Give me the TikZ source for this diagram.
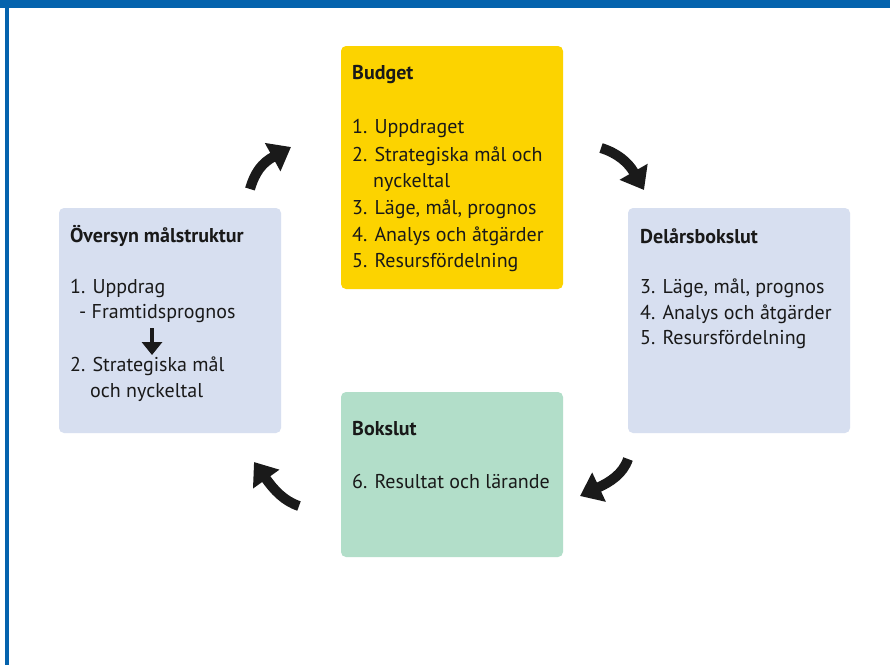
\documentclass[tikz,border=0pt]{standalone}
\usepackage{fontspec}
\setmainfont{PT Sans}
\usetikzlibrary{arrows.meta}
\definecolor{frameblue}{HTML}{0563AD}
\definecolor{budgetyellow}{HTML}{FCD300}
\definecolor{paleblue}{HTML}{D7DFF0}
\definecolor{palegreen}{HTML}{B2DEC9}
\definecolor{arrowblack}{HTML}{1A1A1A}
\tikzset{
  panel/.style={rounded corners=5pt, draw=none},
  txt/.style={anchor=west, inner sep=0pt, font=\fontsize{20}{24}\selectfont, text=black!90},
  ttl/.style={txt, font=\fontsize{20}{24}\selectfont\bfseries},
  bigarrow/.style={draw=arrowblack, line width=10pt, -{Triangle[length=21pt,width=31pt]}},
}
\begin{document}
\begin{tikzpicture}[x=1pt,y=-1pt]
\useasboundingbox (0,0) rectangle (890,665);
\fill[white] (0,0) rectangle (890,665);
\fill[frameblue] (0,0) rectangle (890,8);
\fill[frameblue] (5,0) rectangle (9,665);

% panels
\fill[panel, budgetyellow] (341,46) rectangle (563,289);
\fill[panel, paleblue] (59,208) rectangle (281,433);
\fill[panel, paleblue] (628,208) rectangle (850,433);
\fill[panel, palegreen] (341,392) rectangle (563,557);

% Budget
\node[ttl] (b0) at (352,75) {Budget};
\node[txt] (b1) at (352,128) {1. Uppdraget};
\node[txt] (b2) at (352,156) {2. Strategiska mål och};
\node[txt] (b3) at (373,183) {nyckeltal};
\node[txt] (b4) at (352,209) {3. Läge, mål, prognos};
\node[txt] (b5) at (352,236) {4. Analys och åtgärder};
\node[txt] (b6) at (352,263) {5. Resursfördelning};

% Översyn
\node[ttl] (o0) at (70,236) {Översyn målstruktur};
\node[txt] (o1) at (70,288) {1. Uppdrag};
\node[txt] (o2) at (79,314) {- Framtidsprognos};
\node[txt] (o3) at (70,366) {2. Strategiska mål};
\node[txt] (o4) at (90,393) {och nyckeltal};
\coordinate (oa) at (152,328);
\coordinate (ob) at (152,355);
\draw[draw=arrowblack, line width=3.5pt, -{Triangle[length=13pt,width=20pt]}] (oa) -- (ob);

% Delårsbokslut
\node[ttl] (d0) at (640,236) {Delårsbokslut};
\node[txt] (d1) at (640,288) {3. Läge, mål, prognos};
\node[txt] (d2) at (640,314) {4. Analys och åtgärder};
\node[txt] (d3) at (640,340) {5. Resursfördelning};

% Bokslut
\node[ttl] (k0) at (352,429) {Bokslut};
\node[txt] (k1) at (352,481) {6. Resultat och lärande};

% curved arrows
\coordinate (a1s) at (250,189);
\coordinate (a1e) at (291,147);
\draw[bigarrow] (a1s) .. controls (255,172) and (262,163) .. (a1e);
\coordinate (a2s) at (601,148);
\coordinate (a2e) at (644,190);
\draw[bigarrow] (a2s) .. controls (617,153) and (628,162) .. (a2e);
\coordinate (a3s) at (628,459);
\coordinate (a3e) at (580,496);
\draw[bigarrow] (a3s) .. controls (623,474) and (610,482) .. (a3e);
\coordinate (a4s) at (299,506);
\coordinate (a4e) at (254,462);
\draw[bigarrow] (a4s) .. controls (284,501) and (274,490) .. (a4e);
\end{tikzpicture}
\end{document}
